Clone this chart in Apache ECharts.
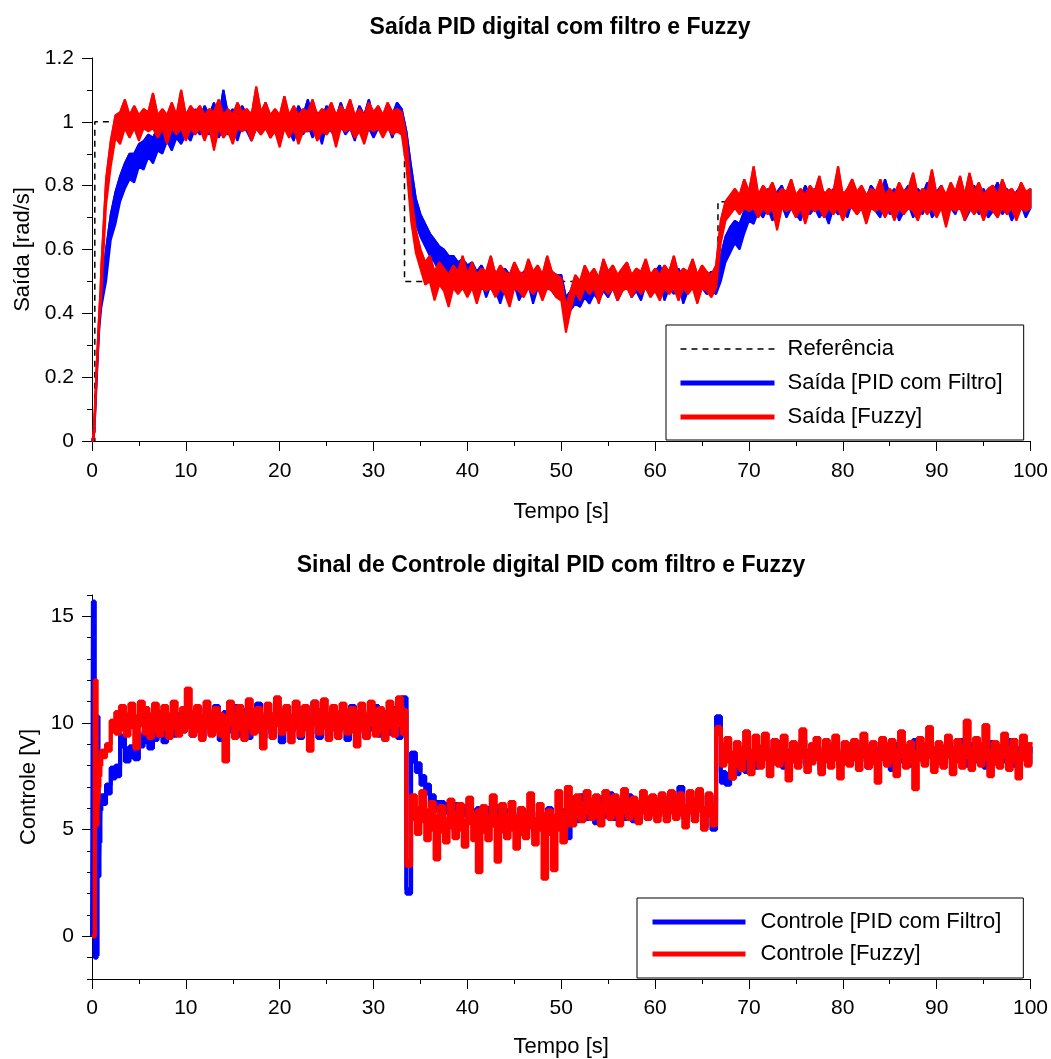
<!DOCTYPE html>
<html><head><meta charset="utf-8">
<script src="https://cdn.jsdelivr.net/npm/echarts@6/dist/echarts.min.js"></script>
<style>html,body{margin:0;padding:0;background:#fff}#c{width:1051px;height:1059px}</style>
</head><body><div id="c"></div>
<script>
// ---- sampling instants (s): fine start, then every 0.5 s from 1.0 to 100 ----
const tempoInicial = [0, 0.1, 0.2, 0.3, 0.4, 0.5, 0.6, 0.7, 0.8, 0.9];
const passo = 0.5;

// ---- reference (step) ----
const refTempo = [0, 0.3, 33.3, 66.7, 100];
const refValor = [0, 1, 0.5, 0.75, 0.75];

// ---- output, PID with filter (rad/s): lower / upper edge of the noisy trace ----
const saidaPIDmin = [
0, 0, 0.01, 0.06, 0.12, 0.19, 0.25, 0.31, 0.36, 0.39,
0.42, 0.5, 0.63, 0.68, 0.75, 0.79, 0.82, 0.81, 0.86, 0.85, 0.89, 0.87, 0.91, 0.9, 0.94, 0.91, 0.95, 0.93, 0.96, 0.94,
0.98, 0.96, 0.98, 0.96, 0.99, 0.95, 0.98, 0.96, 0.98, 0.94, 0.99, 0.97, 0.94, 0.98, 0.96, 0.99, 0.95, 0.98, 0.94, 0.99,
0.97, 0.94, 0.99, 0.96, 0.99, 0.95, 0.98, 0.93, 0.99, 0.97, 0.95, 0.99, 0.96, 0.98, 0.94, 0.99, 0.97, 0.98, 0.95, 0.98,
0.96, 0.99, 0.95, 0.99, 0.98, 0.89, 0.78, 0.68, 0.64, 0.61, 0.58, 0.56, 0.53, 0.55, 0.52, 0.53, 0.5, 0.52, 0.49, 0.51,
0.47, 0.5, 0.45, 0.49, 0.47, 0.43, 0.48, 0.46, 0.49, 0.44, 0.47, 0.49, 0.43, 0.48, 0.46, 0.5, 0.47, 0.45, 0.46, 0.38,
0.41, 0.43, 0.42, 0.45, 0.43, 0.46, 0.44, 0.47, 0.45, 0.48, 0.44, 0.47, 0.49, 0.45, 0.47, 0.44, 0.49, 0.46, 0.47, 0.5,
0.44, 0.48, 0.46, 0.49, 0.43, 0.47, 0.5, 0.45, 0.48, 0.46, 0.47, 0.46, 0.5, 0.56, 0.59, 0.62, 0.6, 0.65, 0.69, 0.68,
0.72, 0.7, 0.73, 0.69, 0.72, 0.74, 0.7, 0.73, 0.71, 0.69, 0.74, 0.71, 0.73, 0.7, 0.72, 0.68, 0.73, 0.71, 0.72, 0.7,
0.75, 0.71, 0.73, 0.69, 0.74, 0.72, 0.7, 0.76, 0.71, 0.73, 0.69, 0.72, 0.74, 0.7, 0.73, 0.71, 0.75, 0.7, 0.72, 0.74,
0.7, 0.73, 0.71, 0.75, 0.69, 0.72, 0.74, 0.71, 0.73, 0.7, 0.72, 0.75, 0.71, 0.73, 0.69, 0.72, 0.74, 0.7, 0.73
];
const saidaPIDmax = [
0, 0.01, 0.03, 0.08, 0.14, 0.21, 0.27, 0.33, 0.38, 0.43,
0.48, 0.6, 0.71, 0.78, 0.83, 0.87, 0.9, 0.9, 0.93, 0.94, 0.96, 0.95, 0.98, 0.97, 1.0, 0.98, 1.02, 1.0, 1.03, 1.01,
1.04, 1.01, 1.05, 1.02, 1.06, 1.01, 1.1, 1.02, 1.04, 1.01, 1.05, 1.02, 1.03, 1.04, 1.02, 1.06, 1.01, 1.03, 1.02, 1.05,
1.02, 1.01, 1.05, 1.02, 1.07, 1.01, 1.03, 1.01, 1.05, 1.02, 1.01, 1.06, 1.02, 1.04, 1.01, 1.05, 1.02, 1.07, 1.01, 1.04,
1.02, 1.05, 1.02, 1.06, 1.04, 0.97, 0.86, 0.76, 0.71, 0.68, 0.65, 0.63, 0.61, 0.6, 0.58, 0.58, 0.56, 0.57, 0.55, 0.56,
0.53, 0.55, 0.52, 0.54, 0.53, 0.52, 0.54, 0.52, 0.55, 0.51, 0.53, 0.54, 0.51, 0.53, 0.52, 0.56, 0.53, 0.52, 0.52, 0.45,
0.47, 0.49, 0.48, 0.5, 0.49, 0.51, 0.5, 0.52, 0.51, 0.53, 0.51, 0.52, 0.54, 0.51, 0.53, 0.51, 0.54, 0.52, 0.53, 0.55,
0.51, 0.53, 0.52, 0.54, 0.51, 0.53, 0.55, 0.52, 0.53, 0.52, 0.53, 0.52, 0.58, 0.64, 0.67, 0.69, 0.68, 0.72, 0.75, 0.75,
0.78, 0.76, 0.79, 0.76, 0.78, 0.8, 0.76, 0.79, 0.77, 0.76, 0.8, 0.77, 0.79, 0.76, 0.78, 0.76, 0.79, 0.77, 0.78, 0.76,
0.81, 0.77, 0.79, 0.76, 0.8, 0.78, 0.76, 0.82, 0.77, 0.79, 0.76, 0.78, 0.8, 0.76, 0.79, 0.77, 0.81, 0.76, 0.78, 0.8,
0.76, 0.79, 0.77, 0.81, 0.76, 0.78, 0.8, 0.77, 0.79, 0.76, 0.78, 0.81, 0.77, 0.79, 0.76, 0.78, 0.8, 0.76, 0.79
];

// ---- output, Fuzzy (rad/s): lower / upper edge ----
const saidaFuzzyMin = [
0, 0, 0.01, 0.06, 0.13, 0.2, 0.26, 0.32, 0.38, 0.42,
0.46, 0.74, 0.86, 0.95, 0.93, 0.98, 0.95, 0.98, 0.94, 0.98, 0.97, 0.98, 0.95, 0.98, 0.93, 0.98, 0.96, 0.98, 0.94, 0.98,
0.96, 0.98, 0.94, 0.98, 0.91, 0.98, 0.95, 0.97, 0.93, 0.98, 0.97, 0.98, 0.94, 0.98, 0.96, 0.98, 0.95, 0.97, 0.92, 0.98,
0.95, 0.98, 0.93, 0.97, 0.97, 0.98, 0.94, 0.97, 0.96, 0.98, 0.92, 0.98, 0.97, 0.98, 0.95, 0.97, 0.93, 0.98, 0.97, 0.98,
0.95, 0.98, 0.96, 0.97, 0.96, 0.86, 0.69, 0.59, 0.54, 0.49, 0.5, 0.44, 0.49, 0.47, 0.42, 0.48, 0.46, 0.48, 0.45, 0.48,
0.43, 0.48, 0.47, 0.48, 0.45, 0.48, 0.46, 0.42, 0.48, 0.47, 0.45, 0.48, 0.46, 0.48, 0.44, 0.48, 0.47, 0.45, 0.44, 0.34,
0.41, 0.47, 0.44, 0.48, 0.46, 0.48, 0.43, 0.48, 0.46, 0.48, 0.44, 0.47, 0.48, 0.45, 0.48, 0.46, 0.48, 0.45, 0.47, 0.44,
0.48, 0.46, 0.48, 0.44, 0.48, 0.46, 0.48, 0.43, 0.48, 0.47, 0.45, 0.48, 0.62, 0.69, 0.71, 0.73, 0.71, 0.73, 0.72, 0.73,
0.7, 0.73, 0.71, 0.73, 0.66, 0.73, 0.72, 0.73, 0.7, 0.73, 0.68, 0.73, 0.72, 0.73, 0.7, 0.73, 0.71, 0.73, 0.69, 0.73,
0.73, 0.71, 0.73, 0.68, 0.73, 0.72, 0.73, 0.7, 0.73, 0.69, 0.73, 0.71, 0.73, 0.72, 0.69, 0.73, 0.71, 0.73, 0.7, 0.73,
0.67, 0.73, 0.72, 0.73, 0.69, 0.73, 0.71, 0.73, 0.69, 0.73, 0.72, 0.7, 0.73, 0.71, 0.73, 0.69, 0.73, 0.72, 0.73
];
const saidaFuzzyMax = [
0, 0.01, 0.04, 0.1, 0.17, 0.24, 0.3, 0.36, 0.42, 0.47,
0.55, 0.82, 0.94, 1.02, 1.03, 1.07, 1.02, 1.05, 1.02, 1.04, 1.03, 1.09, 1.02, 1.04, 1.02, 1.06, 1.02, 1.1, 1.02, 1.05,
1.03, 1.05, 1.02, 1.04, 1.03, 1.07, 1.02, 1.04, 1.02, 1.06, 1.03, 1.04, 1.02, 1.11, 1.03, 1.06, 1.02, 1.04, 1.02, 1.08,
1.02, 1.05, 1.02, 1.04, 1.03, 1.07, 1.02, 1.04, 1.03, 1.06, 1.02, 1.05, 1.03, 1.07, 1.02, 1.04, 1.02, 1.06, 1.03, 1.05,
1.02, 1.06, 1.03, 1.04, 1.03, 0.95, 0.77, 0.66, 0.6, 0.56, 0.58, 0.53, 0.56, 0.54, 0.52, 0.55, 0.53, 0.58, 0.52, 0.56,
0.52, 0.54, 0.53, 0.58, 0.52, 0.55, 0.53, 0.52, 0.56, 0.53, 0.52, 0.57, 0.53, 0.55, 0.52, 0.58, 0.53, 0.52, 0.51, 0.42,
0.47, 0.52, 0.5, 0.55, 0.52, 0.54, 0.51, 0.57, 0.53, 0.55, 0.52, 0.54, 0.56, 0.52, 0.54, 0.53, 0.57, 0.52, 0.54, 0.52,
0.55, 0.53, 0.58, 0.52, 0.54, 0.53, 0.57, 0.52, 0.55, 0.53, 0.52, 0.55, 0.69, 0.75, 0.77, 0.79, 0.77, 0.82, 0.78, 0.86,
0.77, 0.8, 0.78, 0.81, 0.77, 0.79, 0.78, 0.82, 0.77, 0.79, 0.77, 0.8, 0.78, 0.83, 0.77, 0.79, 0.78, 0.86, 0.77, 0.79,
0.82, 0.78, 0.8, 0.77, 0.79, 0.78, 0.82, 0.77, 0.79, 0.77, 0.81, 0.78, 0.79, 0.84, 0.77, 0.79, 0.78, 0.85, 0.77, 0.8,
0.77, 0.81, 0.78, 0.83, 0.77, 0.84, 0.78, 0.81, 0.77, 0.79, 0.8, 0.77, 0.82, 0.78, 0.79, 0.77, 0.81, 0.78, 0.79
];

// ---- control signal, PID with filter (V): lower / upper edge ----
const controlePIDmin = [
0, 15.5, 15.5, -1.0, -1.0, -0.9, 10.1, 2.8, 4.4, 5.9,
6.2, 6.7, 7.4, 7.5, 8.9, 8.2, 8.4, 8.3, 8.9, 9.1, 8.8, 9.2, 9.4, 9.1, 9.5, 9.4, 9.8, 9.6, 9.9, 9.4,
9.8, 9.3, 10.0, 9.5, 10.1, 9.2, 9.8, 9.6, 10.1, 9.4, 9.9, 9.3, 9.7, 10.2, 9.3, 9.8, 9.5, 10.0, 9.1, 9.8,
9.6, 10.1, 9.3, 9.9, 9.5, 10.3, 9.3, 9.8, 9.4, 10.0, 9.6, 9.8, 9.2, 10.1, 9.5, 9.9, 9.3, 9.7, 10.1, 9.4,
9.8, 9.5, 10.0, 9.3, 10.9, 2.0, 8.2, 7.7, 7.1, 6.7, 6.2, 5.9, 5.9, 5.8, 5.7, 5.8, 5.6, 5.7, 5.5, 5.4,
5.5, 5.3, 5.4, 5.2, 5.6, 5.1, 5.4, 5.2, 5.0, 5.4, 5.2, 5.3, 4.9, 5.3, 5.1, 5.4, 5.0, 5.2, 5.3, 4.6,
5.9, 5.4, 6.0, 5.5, 5.8, 5.3, 5.9, 5.6, 6.1, 5.5, 5.8, 5.5, 6.0, 5.4, 5.7, 5.9, 5.5, 5.8, 5.6, 6.0,
5.6, 6.1, 5.7, 6.5, 5.5, 5.9, 5.6, 6.2, 5.1, 6.0, 5.0, 10.0, 7.2, 7.1, 7.4, 7.6, 7.8, 7.7, 8.0, 7.9,
8.1, 8.4, 8.0, 8.3, 8.6, 7.9, 8.2, 8.5, 8.1, 8.7, 8.0, 8.3, 8.4, 7.8, 8.5, 8.2, 8.6, 8.0, 8.3, 8.1,
8.5, 8.2, 8.7, 7.9, 8.4, 8.1, 8.6, 8.3, 7.8, 8.5, 8.2, 8.4, 8.0, 8.7, 8.3, 8.1, 8.5, 7.9, 8.4, 8.2,
8.6, 8.1, 8.4, 8.7, 8.0, 8.5, 8.2, 8.3, 7.9, 8.6, 8.1, 8.4, 8.2, 8.7, 8.0, 8.3, 8.5, 8.1, 8.4
];
const controlePIDmax = [
0, 15.7, 15.7, -0.8, -0.8, -0.7, 10.3, 3.0, 4.6, 6.1,
6.6, 7.1, 7.9, 8.0, 9.4, 8.8, 8.9, 8.8, 9.4, 9.6, 9.4, 9.7, 9.9, 9.7, 10.1, 10.0, 10.4, 10.2, 10.5, 10.0,
10.5, 10.0, 10.7, 10.2, 10.8, 9.9, 10.5, 10.3, 10.8, 10.1, 10.6, 10.0, 10.4, 10.9, 10.1, 10.5, 10.2, 10.7, 9.9, 10.5,
10.3, 10.8, 10.0, 10.6, 10.2, 11.0, 10.0, 10.5, 10.1, 10.7, 10.3, 10.5, 9.9, 10.8, 10.2, 10.6, 10.0, 10.4, 10.8, 10.1,
10.5, 10.2, 10.7, 10.0, 11.2, 2.2, 8.6, 8.1, 7.5, 7.1, 6.6, 6.3, 6.3, 6.2, 6.1, 6.2, 6.0, 6.1, 5.9, 5.9,
6.0, 5.8, 6.0, 5.7, 6.1, 5.6, 5.9, 5.8, 5.5, 6.0, 5.7, 5.9, 5.5, 5.8, 5.6, 6.0, 5.6, 5.7, 5.9, 5.2,
6.5, 6.0, 6.6, 6.1, 6.3, 5.9, 6.5, 6.2, 6.7, 6.0, 6.4, 6.1, 6.6, 6.0, 6.3, 6.5, 6.1, 6.4, 6.2, 6.6,
6.2, 6.7, 6.3, 7.0, 6.1, 6.5, 6.2, 6.8, 5.7, 6.6, 5.6, 10.3, 7.7, 7.6, 7.9, 8.1, 8.3, 8.2, 8.5, 8.4,
8.6, 8.9, 8.5, 8.8, 9.1, 8.4, 8.7, 9.0, 8.6, 9.2, 8.5, 8.8, 8.9, 8.3, 9.0, 8.7, 9.1, 8.5, 8.8, 8.6,
9.0, 8.7, 9.2, 8.4, 8.9, 8.6, 9.1, 8.8, 8.3, 9.0, 8.7, 8.9, 8.5, 9.2, 8.8, 8.6, 9.0, 8.4, 8.9, 8.7,
9.1, 8.6, 8.9, 9.2, 8.5, 9.0, 8.7, 8.8, 8.4, 9.1, 8.6, 8.9, 8.7, 9.2, 8.5, 8.8, 9.0, 8.6, 8.9
];

// ---- control signal, Fuzzy (V): lower / upper edge ----
const controleFuzzyMin = [
0, 0, 0, 11.8, 11.8, 5.2, 6.3, 7.0, 7.5, 8.0,
8.4, 8.7, 9.6, 9.5, 9.7, 9.4, 9.8, 8.8, 9.9, 9.5, 9.3, 9.6, 9.4, 9.7, 9.3, 9.8, 9.4, 9.6, 9.8, 9.4,
9.6, 9.2, 9.8, 9.4, 9.6, 9.4, 8.2, 9.9, 9.3, 9.7, 9.2, 9.8, 9.5, 9.6, 8.8, 9.8, 9.3, 9.9, 9.5, 9.7,
9.1, 9.8, 9.4, 9.7, 8.7, 9.9, 9.5, 9.8, 9.2, 9.7, 9.3, 9.8, 9.5, 9.6, 8.9, 9.7, 9.3, 9.9, 9.4, 9.6,
9.2, 9.8, 9.4, 9.9, 9.5, 3.3, 5.5, 4.8, 5.4, 4.5, 5.0, 3.6, 4.9, 4.4, 5.1, 4.6, 5.0, 4.2, 5.3, 4.5,
3.0, 4.9, 4.5, 5.2, 3.5, 4.9, 4.6, 5.0, 4.1, 4.8, 4.6, 5.1, 4.3, 5.0, 2.7, 4.8, 3.1, 5.0, 4.4, 5.2,
5.2, 5.6, 5.4, 5.8, 5.5, 5.6, 5.2, 5.8, 5.5, 5.7, 5.2, 5.8, 5.5, 5.7, 5.3, 5.8, 5.5, 5.7, 5.4, 5.8,
5.4, 5.8, 5.5, 5.7, 5.1, 5.8, 5.4, 5.9, 5.0, 5.7, 5.2, 9.5, 8.0, 8.2, 7.4, 8.0, 7.8, 8.4, 7.6, 8.3,
7.9, 8.3, 7.5, 8.1, 8.0, 8.3, 7.3, 8.2, 7.9, 8.4, 7.7, 8.1, 8.3, 7.6, 8.2, 7.9, 8.3, 7.4, 8.1, 8.0,
8.3, 7.8, 8.4, 7.9, 8.1, 7.2, 8.3, 8.0, 8.2, 7.5, 8.4, 7.9, 8.1, 6.9, 8.3, 8.0, 8.4, 7.7, 8.1, 7.9,
8.4, 7.6, 8.2, 7.9, 8.4, 7.8, 8.3, 8.0, 8.4, 7.5, 8.1, 7.9, 8.4, 7.8, 8.2, 7.4, 8.3, 8.0, 8.1
];
const controleFuzzyMax = [
0, 0, 0, 12.0, 12.0, 5.4, 6.5, 7.2, 7.7, 8.2,
8.7, 9.0, 10.1, 10.5, 10.8, 10.4, 10.9, 10.3, 11.0, 10.7, 10.4, 10.9, 10.5, 10.8, 10.4, 11.0, 10.3, 10.7, 11.6, 10.5,
10.8, 10.3, 11.0, 10.5, 10.7, 10.4, 10.3, 11.0, 10.4, 10.8, 10.4, 11.1, 10.6, 10.7, 10.3, 10.9, 10.4, 11.2, 10.6, 10.8,
10.3, 11.0, 10.5, 10.8, 10.2, 11.0, 10.6, 11.1, 10.4, 10.8, 10.5, 10.9, 10.6, 10.7, 10.3, 10.9, 10.4, 11.0, 10.6, 10.7,
10.4, 11.0, 10.6, 11.2, 10.6, 3.5, 6.6, 6.0, 6.8, 5.9, 6.3, 5.6, 6.1, 5.5, 6.4, 5.8, 6.2, 5.4, 6.5, 5.7,
5.9, 6.1, 5.6, 6.6, 5.5, 6.2, 5.7, 6.3, 5.6, 6.0, 5.8, 6.7, 5.5, 6.2, 5.7, 5.9, 5.6, 6.8, 5.8, 7.0,
6.3, 6.6, 6.2, 6.8, 6.4, 6.6, 6.1, 6.8, 6.5, 6.6, 6.2, 6.9, 6.4, 6.5, 6.3, 6.8, 6.5, 6.6, 6.4, 6.7,
6.2, 6.8, 6.5, 6.7, 6.1, 6.8, 6.4, 6.9, 6.0, 6.7, 6.2, 9.8, 9.0, 9.3, 8.6, 9.1, 8.8, 9.6, 8.7, 9.4,
8.9, 9.5, 8.6, 9.2, 9.0, 9.4, 8.6, 9.1, 8.9, 9.7, 8.7, 9.0, 9.3, 8.7, 9.2, 8.9, 9.4, 8.6, 9.1, 9.0,
9.2, 8.8, 9.5, 8.9, 9.1, 8.5, 9.3, 9.0, 9.2, 8.7, 9.6, 8.9, 9.1, 8.6, 9.3, 9.0, 9.8, 8.8, 9.1, 8.9,
9.4, 8.7, 9.2, 8.9, 10.1, 8.8, 9.3, 9.0, 9.9, 8.7, 9.1, 8.9, 9.5, 8.8, 9.2, 8.6, 9.4, 9.0, 9.1
];

// ---- tick values for the control axis ----
const ticksControle = [0, 5, 10, 15];

const FONT = '"Liberation Sans", Arial, Helvetica, sans-serif';
const AZUL = '#0000ff', VERMELHO = '#ff0000';
function tempo(i) { return i < tempoInicial.length ? tempoInicial[i] : 1 + (i - tempoInicial.length) * passo; }
const pares = arr => arr.map((v, i) => [tempo(i), v]);
const refPares = refTempo.map((t, i) => [t, refValor[i]]);

// filled band between lower and upper edge, drawn through the axes (api.coord)
function faixa(minArr, maxArr, color, lw, step, xi, yi, z) {
  return {
    type: 'custom', xAxisIndex: xi, yAxisIndex: yi, z: z, silent: true,
    data: pares(minArr), encode: { x: 0, y: 1 },
    renderItem: function (params, api) {
      if (params.dataIndex !== 0) return null;
      const n = maxArr.length, up = [], lo = [];
      for (let i = 0; i < n; i++) {
        up.push(api.coord([tempo(i), maxArr[i]]));
        if (step && i < n - 1) up.push(api.coord([tempo(i + 1), maxArr[i]]));
      }
      for (let i = n - 1; i >= 0; i--) {
        if (step && i < n - 1) lo.push(api.coord([tempo(i + 1), minArr[i]]));
        lo.push(api.coord([tempo(i), minArr[i]]));
      }
      return { type: 'polygon', shape: { points: up.concat(lo) },
        style: { fill: color, stroke: color, lineWidth: lw, lineJoin: 'bevel' } };
    }
  };
}

const axisLineStyle = { show: true, onZero: false, lineStyle: { color: '#000', width: 1 } };
const tickStyle = { show: true, inside: false, length: 10, lineStyle: { color: '#000', width: 1 } };
const minorStyle = { show: true, splitNumber: 2, length: 5, lineStyle: { color: '#000', width: 1 } };
const labelStyle = (m) => ({ color: '#000', fontSize: 21, fontFamily: FONT, margin: m });
const nameStyle = { color: '#000', fontSize: 22, fontFamily: FONT };

const chart = echarts.init(document.getElementById('c'), null, { renderer: 'canvas' });
chart.setOption({
  animation: false,
  backgroundColor: '#fff',
  grid: [
    { left: 92, top: 58, width: 941, height: 383 },
    { left: 92, top: 595, width: 941, height: 386 }
  ],
  xAxis: [
    { gridIndex: 0, type: 'value', min: 0, max: 100, interval: 10,
      name: 'Tempo [s]', nameLocation: 'middle', nameGap: 60, nameTextStyle: nameStyle,
      axisLine: axisLineStyle, axisTick: tickStyle, minorTick: minorStyle,
      splitLine: { show: false }, axisLabel: labelStyle(20) },
    { gridIndex: 1, type: 'value', min: 0, max: 100, interval: 10,
      name: 'Tempo [s]', nameLocation: 'middle', nameGap: 57, nameTextStyle: nameStyle,
      axisLine: axisLineStyle, axisTick: tickStyle, minorTick: minorStyle,
      splitLine: { show: false }, axisLabel: labelStyle(19) }
  ],
  yAxis: [
    { gridIndex: 0, type: 'value', min: 0, max: 1.2, interval: 0.2,
      name: 'Saída [rad/s]', nameLocation: 'middle', nameGap: 58, nameTextStyle: nameStyle,
      axisLine: axisLineStyle, axisTick: tickStyle, minorTick: minorStyle,
      splitLine: { show: false }, axisLabel: labelStyle(18) },
    { gridIndex: 1, type: 'value', min: -2, max: 16, position: 'left',
      name: 'Controle [V]', nameLocation: 'middle', nameGap: 52, nameTextStyle: nameStyle,
      axisLine: axisLineStyle,
      axisTick: Object.assign({}, tickStyle, { customValues: ticksControle }),
      splitLine: { show: false },
      axisLabel: Object.assign(labelStyle(18), { customValues: ticksControle }) },
    { gridIndex: 1, type: 'value', min: -2, max: 16, interval: 1, position: 'left',
      axisLine: { show: false, onZero: false },
      axisTick: { show: true, inside: false, length: 5, lineStyle: { color: '#000', width: 1 } },
      axisLabel: { show: false }, splitLine: { show: false } }
  ],
  legend: [
    { orient: 'vertical', left: 666, top: 325, padding: [13, 21, 12, 12],
      itemWidth: 94, itemHeight: 1, itemGap: 12,
      borderColor: '#000', borderWidth: 1, backgroundColor: '#fff', selectedMode: false,
      textStyle: { color: '#000', fontSize: 22, fontFamily: FONT, padding: [0, 0, 0, 8] },
      data: [
        { name: 'Referência', lineStyle: { width: 1.5 } },
        { name: 'Saída [PID com Filtro]', lineStyle: { width: 5 } },
        { name: 'Saída [Fuzzy]', lineStyle: { width: 5 } }
      ] },
    { orient: 'vertical', left: 637, top: 898, padding: [13, 22, 13, 13],
      itemWidth: 93, itemHeight: 1, itemGap: 10,
      borderColor: '#000', borderWidth: 1, backgroundColor: '#fff', selectedMode: false,
      textStyle: { color: '#000', fontSize: 22, fontFamily: FONT, padding: [0, 0, 0, 10] },
      data: [
        { name: 'Controle [PID com Filtro]', lineStyle: { width: 5 } },
        { name: 'Controle [Fuzzy]', lineStyle: { width: 5 } }
      ] }
  ],
  graphic: [
    { type: 'text', x: 560, y: 28, style: { text: 'Saída PID digital com filtro e Fuzzy', fill: '#000',
      fontSize: 23, fontWeight: 'bold', fontFamily: FONT, align: 'center', verticalAlign: 'middle' } },
    { type: 'text', x: 551, y: 566, style: { text: 'Sinal de Controle digital PID com filtro e Fuzzy', fill: '#000',
      fontSize: 23, fontWeight: 'bold', fontFamily: FONT, align: 'center', verticalAlign: 'middle' } }
  ],
  series: [
    { name: 'Referência', type: 'line', xAxisIndex: 0, yAxisIndex: 0, data: refPares, step: 'end',
      symbol: 'none', color: '#000', lineStyle: { color: '#000', width: 1.5, type: [6, 5] }, z: 1 },

    faixa(saidaPIDmin, saidaPIDmax, AZUL, 2, false, 0, 0, 2),
    { name: 'Saída [PID com Filtro]', type: 'line', xAxisIndex: 0, yAxisIndex: 0, data: pares(saidaPIDmax),
      symbol: 'none', color: AZUL, lineStyle: { color: AZUL, width: 2 }, z: 2 },
    faixa(saidaFuzzyMin, saidaFuzzyMax, VERMELHO, 2, false, 0, 0, 3),
    { name: 'Saída [Fuzzy]', type: 'line', xAxisIndex: 0, yAxisIndex: 0, data: pares(saidaFuzzyMax),
      symbol: 'none', color: VERMELHO, lineStyle: { color: VERMELHO, width: 2 }, z: 3 },

    faixa(controlePIDmin, controlePIDmax, AZUL, 4, true, 1, 1, 2),
    { name: 'Controle [PID com Filtro]', type: 'line', xAxisIndex: 1, yAxisIndex: 1, data: pares(controlePIDmax),
      step: 'end', symbol: 'none', color: AZUL, lineStyle: { color: AZUL, width: 4 }, z: 2 },
    faixa(controleFuzzyMin, controleFuzzyMax, VERMELHO, 4, true, 1, 1, 3),
    { name: 'Controle [Fuzzy]', type: 'line', xAxisIndex: 1, yAxisIndex: 1, data: pares(controleFuzzyMax),
      step: 'end', symbol: 'none', color: VERMELHO, lineStyle: { color: VERMELHO, width: 4 }, z: 3 }
  ]
});
</script></body></html>
